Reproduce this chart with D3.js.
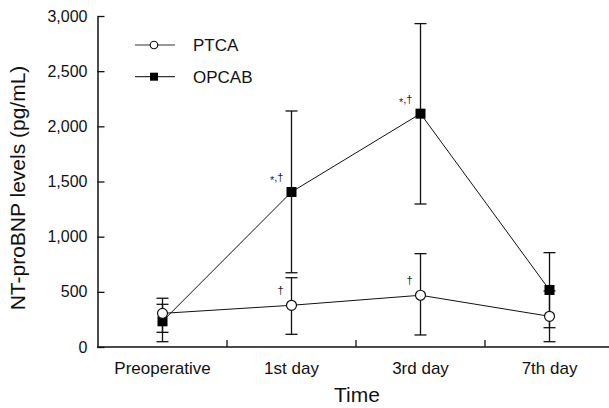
<!DOCTYPE html>
<html>
<head>
<meta charset="utf-8">
<script src="https://cdn.jsdelivr.net/npm/d3@7"></script>
<style>
  body { margin: 0; background: #fff; }
  svg { display: block; font-family: "Liberation Sans", Arial, sans-serif; }
</style>
</head>
<body>
<svg id="chart" width="609" height="408"></svg>
<script>
// categories on the x axis
const categories = ['Preoperative', '1st day', '3rd day', '7th day']

// PTCA group (open circles)
const ptcaMean  = [305, 378, 469, 278]
const ptcaLower = [133, 115, 109, 48]
const ptcaUpper = [442, 628, 846, 508]

// OPCAB group (filled squares)
const opcabMean  = [233, 1405, 2115, 517]
const opcabLower = [48, 673, 1296, 175]
const opcabUpper = [387, 2139, 2931, 855]

const yTicks = [0, 500, 1000, 1500, 2000, 2500, 3000]

// significance marks: series, category index, star or not
const marks = [
  {series: 'OPCAB', index: 1, star: true},
  {series: 'OPCAB', index: 2, star: true},
  {series: 'PTCA', index: 1, star: false},
  {series: 'PTCA', index: 2, star: false}
]

const series = [
  {name: 'PTCA', mean: ptcaMean, lower: ptcaLower, upper: ptcaUpper, shape: 'circle'},
  {name: 'OPCAB', mean: opcabMean, lower: opcabLower, upper: opcabUpper, shape: 'square'}
]

const svg = d3.select('#chart')
const ink = '#111'

// scales
const x = d3.scaleBand().domain(categories).range([98, 614])
const y = d3.scaleLinear().domain([0, 3000]).range([347, 16])
const cx = d => x(d) + x.bandwidth() / 2

// y axis, ticks pointing inward
const yAxis = svg.append('g')
  .attr('transform', 'translate(97.5,0)')
  .call(d3.axisLeft(y).tickValues(yTicks).tickFormat(d3.format(',')).tickSizeInner(-7).tickSizeOuter(0).tickPadding(10))
yAxis.select('.domain').attr('stroke', ink).attr('stroke-width', 1.5)
yAxis.selectAll('.tick line').attr('stroke', ink).attr('stroke-width', 1.3)
yAxis.selectAll('text').attr('font-size', 16).attr('fill', ink)

// x axis line and tick marks between categories
const xAxis = svg.append('g')
  .attr('transform', 'translate(0,347)')
  .call(d3.axisBottom(x).tickSize(0).tickPadding(15))
xAxis.select('.domain').attr('d', `M97,0H614`).attr('stroke', ink).attr('stroke-width', 1.5)
xAxis.selectAll('text').attr('font-size', 17).attr('fill', ink)
xAxis.selectAll('.sep')
  .data(categories.slice(1))
  .enter().append('line')
  .attr('x1', d => x(d)).attr('x2', d => x(d))
  .attr('y1', 0).attr('y2', -7)
  .attr('stroke', ink).attr('stroke-width', 1.3)

// axis titles
svg.append('text')
  .attr('x', 357).attr('y', 402)
  .attr('text-anchor', 'middle')
  .attr('font-size', 21)
  .attr('fill', ink)
  .text('Time')

svg.append('text')
  .attr('transform', 'translate(25,188) rotate(-90)')
  .attr('text-anchor', 'middle')
  .attr('font-size', 21)
  .attr('fill', ink)
  .text('NT-proBNP levels (pg/mL)')

// error bars
const capHalf = 6
series.forEach(s => {
  const g = svg.append('g').attr('class', `err-${s.name}`)
  categories.forEach((c, i) => {
    g.append('line')
      .attr('x1', cx(c)).attr('x2', cx(c))
      .attr('y1', y(s.lower[i])).attr('y2', y(s.upper[i]))
      .attr('stroke', ink).attr('stroke-width', 1.3)
    ;[s.lower[i], s.upper[i]].forEach(v => {
      g.append('line')
        .attr('x1', cx(c) - capHalf).attr('x2', cx(c) + capHalf)
        .attr('y1', y(v)).attr('y2', y(v))
        .attr('stroke', ink).attr('stroke-width', 1.3)
    })
  })
})

// connecting lines
const line = d3.line()
  .x((d, i) => cx(categories[i]))
  .y(d => y(d))

series.forEach(s => {
  svg.append('path')
    .attr('d', line(s.mean))
    .attr('fill', 'none')
    .attr('stroke', ink)
    .attr('stroke-width', 1)
})

// markers
function drawMarker(g, shape, px, py, size) {
  if (shape === 'circle') {
    g.append('circle')
      .attr('cx', px).attr('cy', py).attr('r', size / 2)
      .attr('fill', '#fff').attr('stroke', ink).attr('stroke-width', 1.2)
  } else {
    g.append('rect')
      .attr('x', px - size / 2).attr('y', py - size / 2)
      .attr('width', size).attr('height', size)
      .attr('fill', '#000')
  }
}

// squares first, open circles on top
series.slice().reverse().forEach(s => {
  const g = svg.append('g').attr('class', `marker-${s.name}`)
  s.mean.forEach((v, i) => drawMarker(g, s.shape, cx(categories[i]), y(v), 10))
})

// significance marks (asterisk sits lower, like a small star)
const sig = svg.selectAll('.sig')
  .data(marks)
  .enter().append('text')
  .attr('class', 'sig')
  .attr('x', d => cx(categories[d.index]) - 8)
  .attr('y', d => y(series.find(s => s.name === d.series).mean[d.index]) - 11)
  .attr('text-anchor', 'end')
  .attr('font-size', 11)
  .attr('fill', '#222')

sig.filter(d => d.star).append('tspan')
  .attr('dy', 3)
  .text('*')
sig.filter(d => d.star).append('tspan')
  .attr('dy', -3)
  .text(',†')
sig.filter(d => !d.star).text('†')

// legend
const legend = svg.selectAll('.legend')
  .data(series)
  .enter().append('g')
  .attr('class', 'legend')
  .attr('transform', (d, i) => `translate(135,${45 + i * 31.7})`)

legend.append('line')
  .attr('x1', 0).attr('x2', 40)
  .attr('stroke', '#333').attr('stroke-width', 1.2)

legend.each(function (d) {
  drawMarker(d3.select(this), d.shape, 19, 0, d.shape === 'circle' ? 7.5 : 8)
})

legend.append('text')
  .attr('x', 58)
  .attr('y', 6)
  .attr('font-size', 17)
  .attr('fill', ink)
  .text(d => d.name)
</script>
</body>
</html>
